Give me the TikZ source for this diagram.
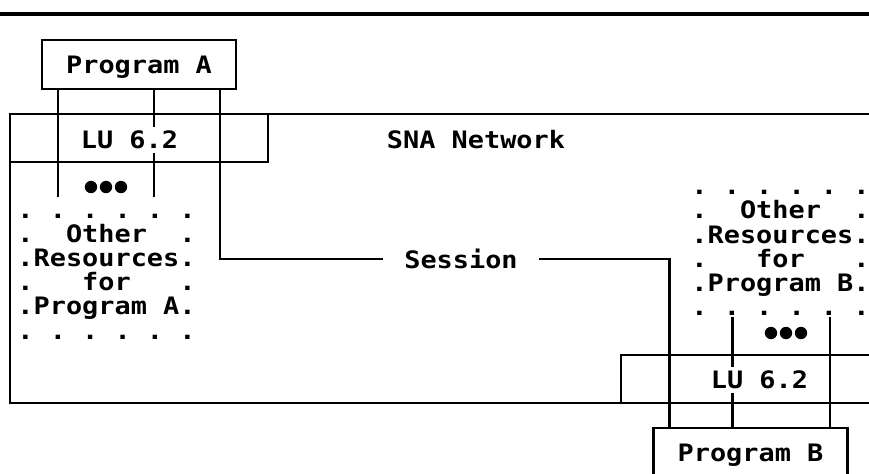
\documentclass[tikz,border=0pt]{standalone}
\usepackage{fontspec}
\newfontfamily\ibmfont{DejaVu Sans Mono}[FakeStretch=1.12]
\usetikzlibrary{calc}

\begin{document}
\begin{tikzpicture}[x=0.5pt, y=-0.5pt, line width=1.1pt,
  every node/.style={font=\ibmfont\bfseries\fontsize{12}{12.1}\selectfont\frenchspacing, inner sep=0pt},
  progbox/.style={draw, minimum width=97pt, minimum height=24.5pt, text height=8.7pt, text depth=0pt},
  resblock/.style={align=left},
  lutext/.style={fill=white, inner xsep=1pt, inner ysep=2pt}]

    \useasboundingbox (0,0) rectangle (869,473);
    \clip (0,0) rectangle (869,473);

    % Top rule
    \draw[line width=2pt] (0,14) -- (869,14);

    % SNA network outline (open to the right)
    \draw (869,114) -| (10,403) -- (869,403);
    \node (sna) at (476,140) {SNA Network};

    % LU 6.2 boxes
    \draw (10,114) rectangle (268,162);
    \draw (869,355) -| (621,403);

    % Programs
    \node[progbox] (pa) at (139,64.5) {Program A};
    \node[progbox] (pb) at (750.5,452.5) {Program B};

    % Other resources
    \node[resblock] (resA) at (106.5,276.5)
        {. . . . . .\\.~~Other~~.\\.Resources.\\.~~~for~~~.\\.Program~A.\\. . . . . .};
    \node[resblock] (resB) at (780.5,253)
        {. . . . . .\\.~~Other~~.\\.Resources.\\.~~~for~~~.\\.Program~B.\\. . . . . .};

    % Attachment points on the programs
    \coordinate (aL) at ([xshift=8.5pt]pa.south west);
    \coordinate (aM) at ([xshift=56.5pt]pa.south west);
    \coordinate (aR) at ([xshift=-8.5pt]pa.south east);
    \coordinate (bL) at ([xshift=8.5pt]pb.north west);
    \coordinate (bM) at ([xshift=40pt]pb.north west);
    \coordinate (bR) at ([xshift=-9.5pt]pb.north east);

    % Program A to its resources
    \draw (aL) -- ([yshift=8pt]resA.north -| aL);
    \draw (aM) -- ([yshift=8pt]resA.north -| aM);

    % Program B to its resources
    \draw (resB.south -| bM) -- (bM);
    \draw (resB.south -| bR) -- (bR);

    % Session between the programs
    \node[inner xsep=10pt] (sess) at (461,259) {Session};
    \draw (aR) |- (sess.west);
    \draw (sess.east) -| (bL);

    % More resources
    \foreach \i in {-1,0,1} {
        \fill (106+15*\i,187) circle[radius=3.1pt];
        \fill (786+15*\i,333) circle[radius=3.1pt];
    }

    % LU labels over the lines
    \node[lutext] (luA) at (129.5,140) {LU 6.2};
    \node[lutext] (luB) at (759.5,380) {LU 6.2};

\end{tikzpicture}
\end{document}
